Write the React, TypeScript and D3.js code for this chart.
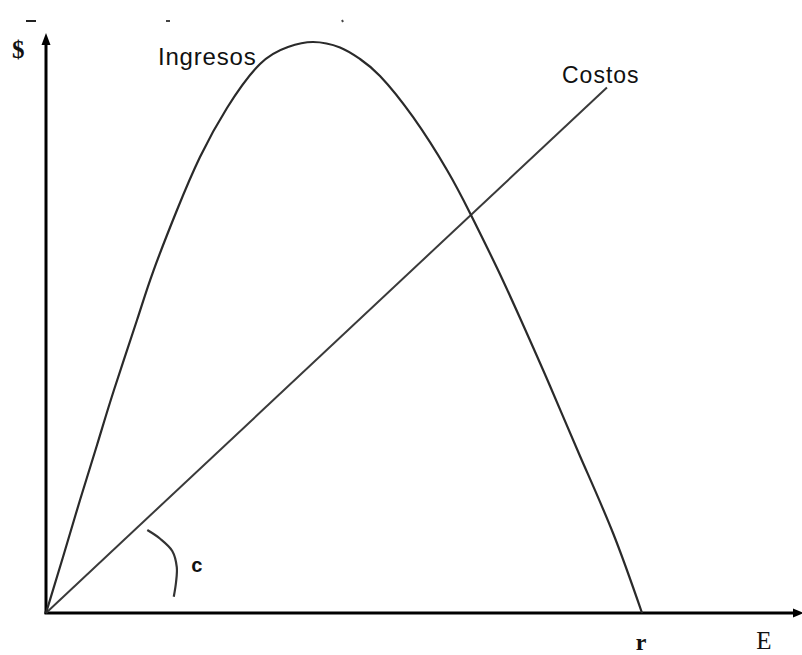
import React from "react";
import * as d3 from "d3";

// Effort (E) values and revenue ($) values for the "Ingresos" curve
const ingresosE = [0, 2.25, 4.5, 6.75, 8.99, 12.04, 14.15, 17.33, 20.37, 23.94, 28.31, 32.01, 35.32, 38.89, 41.53, 44.18, 48.54, 53.04, 56.08, 59.66, 62.7, 66.67, 70.63, 75.0, 78.84];
const ingresosV = [0, 9.66, 19.48, 28.97, 38.45, 50.52, 58.79, 69.48, 78.62, 87.07, 94.66, 97.59, 98.45, 97.5, 95.52, 92.59, 85.52, 76.38, 68.97, 59.48, 50.86, 39.14, 27.07, 13.79, 0];

// Linear cost line "Costos"
const costosE = [0, 74.2];
const costosV = [0, 90.6];

// Angle marker "c"
const arcE = [13.4, 15.1, 16.7, 17.3, 17.2, 16.9];
const arcV = [14.3, 12.8, 10.7, 7.9, 5.3, 2.8];

const axisLabels = { y: "$", x: "E", r: "r", c: "c" };
const seriesLabels = ["Ingresos", "Costos"];

export default function App() {
  const W = 802, H = 655;
  const x = d3.scaleLinear().domain([0, 100]).range([46, 802]);
  const y = d3.scaleLinear().domain([0, 100]).range([613, 33]);

  const ingresos = ingresosE.map((e, i) => [e, ingresosV[i]] as [number, number]);
  const costos = costosE.map((e, i) => [e, costosV[i]] as [number, number]);
  const arcPts = arcE.map((e, i) => [e, arcV[i]] as [number, number]);

  const smooth = d3.line<[number, number]>().x(d => x(d[0])).y(d => y(d[1])).curve(d3.curveNatural);
  const curve = d3.line<[number, number]>().x(d => x(d[0])).y(d => y(d[1])).curve(d3.curveCatmullRom.alpha(0.5));
  const straight = d3.line<[number, number]>().x(d => x(d[0])).y(d => y(d[1]));

  const x0 = x(0), y0 = y(0);
  const yTop = y(100), xRight = x(100);

  return (
    <svg width={W} height={H} style={{ position: "absolute", left: 0, top: 0, background: "#fff" }}>
      <rect width={W} height={H} fill="#fff" />
      {/* remnants at the top */}
      <line x1={26} x2={36} y1={21} y2={21} stroke="#222" strokeWidth={2} />
      <line x1={166} x2={170} y1={21} y2={21} stroke="#444" strokeWidth={2} />
      <line x1={342} x2={343} y1={20} y2={22} stroke="#444" strokeWidth={2} />

      {/* axes */}
      <line x1={x0} x2={x0} y1={y0 + 1} y2={yTop + 8} stroke="#000" strokeWidth={3} />
      <path d={`M${x0},${yTop} L${x0 - 4.5},${yTop + 12} L${x0 + 4.5},${yTop + 12} Z`} fill="#000" />
      <line x1={x0 - 1.5} x2={xRight - 6} y1={y0} y2={y0} stroke="#000" strokeWidth={3} />
      <path d={`M${xRight + 2},${y0} L${xRight - 9},${y0 - 4.5} L${xRight - 9},${y0 + 4.5} Z`} fill="#000" />

      {/* Costos */}
      <path d={straight(costos) || ""} fill="none" stroke="#3a3a3a" strokeWidth={2} />
      {/* Ingresos */}
      <path d={smooth(ingresos) || ""} fill="none" stroke="#2a2a2a" strokeWidth={2.2} />
      {/* angle marker */}
      <path d={curve(arcPts) || ""} fill="none" stroke="#333" strokeWidth={2.2} />

      {/* labels */}
      <text x={12} y={58} fontFamily="Liberation Serif" fontWeight="bold" fontSize={25} fill="#111">{axisLabels.y}</text>
      <text x={158} y={65} fontFamily="Liberation Sans" fontSize={24} letterSpacing={0.8} fill="#111">{seriesLabels[0]}</text>
      <text x={562} y={83} fontFamily="Liberation Sans" fontSize={23} letterSpacing={1} fill="#111">{seriesLabels[1]}</text>
      <text x={197} y={572} textAnchor="middle" fontFamily="Liberation Mono" fontWeight="bold" fontSize={20} fill="#111">{axisLabels.c}</text>
      <text x={641} y={650} textAnchor="middle" fontFamily="Liberation Serif" fontWeight="bold" fontSize={24} fill="#111">{axisLabels.r}</text>
      <text x={764} y={649} textAnchor="middle" fontFamily="Liberation Serif" fontSize={25} fill="#111">{axisLabels.x}</text>
    </svg>
  );
}
